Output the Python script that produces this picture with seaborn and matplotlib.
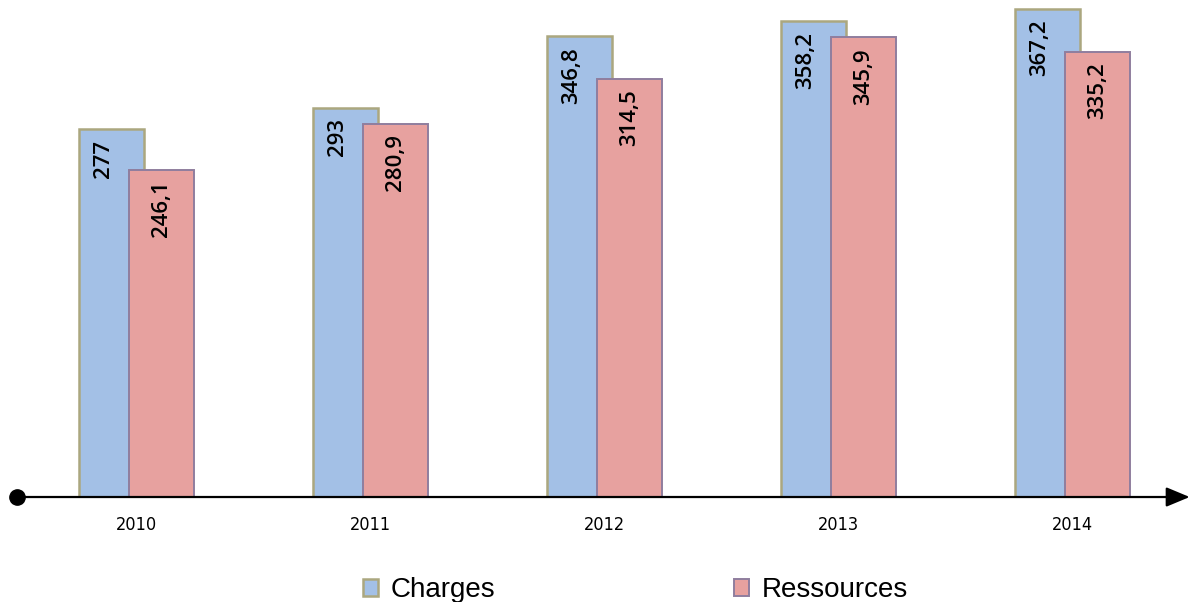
import matplotlib
matplotlib.use("Agg")
import matplotlib.pyplot as plt
import seaborn as sns
import numpy as np
import pandas as pd

# data
years = ["2010", "2011", "2012", "2013", "2014"]
charges = [277, 293, 346.8, 358.2, 367.2]
ressources = [246.1, 280.9, 314.5, 345.9, 335.2]


def fr(v):
    # french decimal comma, no decimals for whole numbers
    if float(v).is_integer():
        return str(int(v))
    return f"{v:.1f}".replace(".", ",")


pos = np.arange(len(years))
df = pd.DataFrame({"pos": pos, "Charges": charges, "Ressources": ressources})

sns.set_theme(style="white")
plt.rcParams["font.family"] = ["Liberation Sans", "DejaVu Sans"]
plt.rcParams["text.color"] = "black"

fig = plt.figure(figsize=(11.92, 6.02), dpi=100)
ax = fig.add_axes([0, 0.1744, 1, 0.8256])

off = 0.107
w = 0.278
sns.barplot(x=df.pos - off, y=df.Charges, native_scale=True, width=w,
            color="#A3C0E6", edgecolor="#ABA77F", linewidth=1.8,
            saturation=1, label="Charges", ax=ax, zorder=2)
sns.barplot(x=df.pos + off, y=df.Ressources, native_scale=True, width=w,
            color="#E7A19F", edgecolor="#8F7E9E", linewidth=1.4,
            saturation=1, label="Ressources", ax=ax, zorder=3)
if ax.get_legend() is not None:
    ax.get_legend().remove()

ax.set_xlim(-0.585, 4.51)
ax.set_ylim(0, 374)
for s in ax.spines.values():
    s.set_visible(False)
ax.set_xlabel("")
ax.set_ylabel("")
ax.set_yticks([])
ax.set_xticks(pos)
ax.set_xticklabels(years, family=["DejaVu Sans"], fontstretch="condensed",
                   fontsize=13, color="black")
ax.tick_params(axis="x", length=0, pad=14)

# value labels inside the bar tops, rotated
lab = dict(rotation=90, ha="center", va="top", fontsize=16,
           family=["Open Sans", "DejaVu Sans"], weight="semibold",
           color="black", zorder=5)
for i in range(len(years)):
    ax.text(pos[i] - off - 0.034, charges[i] - 8, fr(charges[i]), **lab)
    ax.text(pos[i] + off, ressources[i] - 8, fr(ressources[i]), **lab)

# axis line with dot and arrow
ax.annotate("", xy=(4.5, 0), xytext=(-0.513, 0), xycoords="data",
            annotation_clip=False,
            arrowprops=dict(arrowstyle="-|>,head_length=1.2,head_width=0.5",
                            color="black", lw=1.6, shrinkA=0, shrinkB=0),
            zorder=6)
ax.plot([-0.513], [0], "o", color="black", markersize=11, clip_on=False,
        zorder=6)

handles, labels = ax.get_legend_handles_labels()
fig.legend(handles, labels, loc="center", bbox_to_anchor=(0.533, 0.02),
           ncol=2, frameon=False, fontsize=20, handlelength=0.55,
           handleheight=0.55, handletextpad=0.45, columnspacing=8.6,
           borderpad=0, labelcolor="black")

fig.savefig("out.png", dpi=100)
